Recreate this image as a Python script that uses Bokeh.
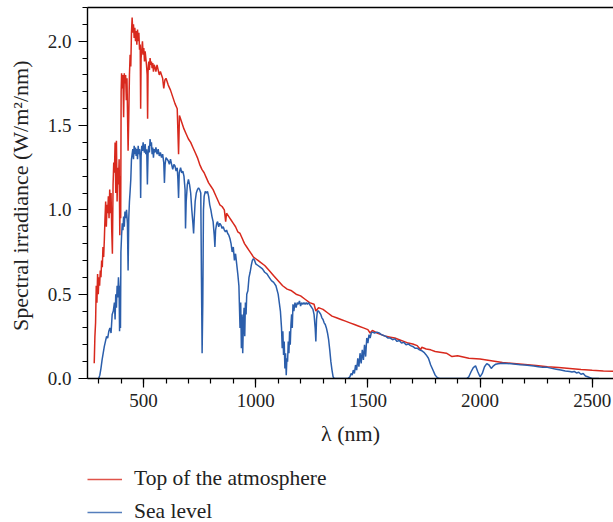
from bokeh.plotting import figure
from bokeh.layouts import column
from bokeh.models import (Range1d, SingleIntervalTicker, PrintfTickFormatter, Legend,
                          LegendItem, LinearAxis, FixedTicker)
from bokeh.embed import file_html
from bokeh.resources import INLINE

# Top of the atmosphere spectrum (wavelength nm, W/m^2/nm)
toa_wl = [280, 283, 286, 289, 292, 295, 298, 301, 304, 307, 310, 313, 316, 319, 322, 325, 328, 331,
          334, 337, 340, 343, 346, 349, 352, 355, 358, 361, 364, 367, 370, 373, 376, 379, 382, 385,
          388, 391, 394, 396, 398, 400, 402, 405, 408, 411, 414, 417, 420, 423, 426, 429, 431, 434,
          437, 440, 443, 446, 449, 452, 455, 458, 461, 464, 467, 470, 473, 476, 479, 482, 485, 487,
          489, 492, 495, 498, 501, 504, 507, 510, 513, 516, 518, 520, 523, 526, 529, 532, 535, 538,
          541, 544, 547, 550, 555, 560, 565, 570, 575, 580, 585, 590, 595, 600, 610, 620, 630, 640,
          650, 656, 660, 670, 680, 690, 700, 710, 720, 730, 740, 750, 760, 770, 780, 790, 800, 810,
          820, 830, 840, 850, 860, 866, 870, 880, 890, 900, 910, 920, 930, 940, 950, 960, 970, 980,
          990, 1000, 1010, 1020, 1040, 1060, 1080, 1100, 1120, 1140, 1160, 1180, 1200, 1220, 1240,
          1260, 1268, 1280, 1300, 1320, 1340, 1360, 1380, 1400, 1420, 1440, 1460, 1480, 1500, 1510,
          1520, 1540, 1560, 1580, 1600, 1620, 1640, 1660, 1680, 1700, 1720, 1735, 1740, 1760, 1780,
          1800, 1850, 1875, 1900, 1950, 2000, 2050, 2100, 2150, 2200, 2250, 2300, 2350, 2400, 2450,
          2500, 2550, 2600]
toa_val = [0.09, 0.25, 0.33, 0.55, 0.45, 0.62, 0.50, 0.60, 0.55, 0.64, 0.60, 0.70, 0.66, 0.78, 0.72,
           0.82, 0.95, 1.05, 0.90, 1.03, 0.98, 1.08, 0.95, 1.12, 0.98, 1.10, 0.88, 0.74, 1.15, 1.28,
           1.22, 1.40, 1.10, 1.41, 1.05, 1.25, 1.15, 1.30, 0.85, 1.20, 0.95, 1.70, 1.81, 1.72, 1.80,
           1.55, 1.81, 1.75, 1.80, 1.65, 1.78, 1.52, 1.35, 1.55, 1.80, 1.92, 1.85, 2.05, 2.14, 2.05,
           2.10, 2.02, 2.08, 2.00, 2.06, 1.98, 2.07, 2.00, 2.05, 1.95, 1.98, 1.60, 1.90, 1.95, 2.00,
           1.92, 1.96, 1.88, 1.94, 1.90, 1.86, 1.80, 1.54, 1.82, 1.88, 1.83, 1.90, 1.86, 1.88, 1.84,
           1.87, 1.82, 1.86, 1.85, 1.82, 1.86, 1.83, 1.80, 1.82, 1.80, 1.78, 1.72, 1.77, 1.78, 1.74,
           1.71, 1.67, 1.63, 1.60, 1.33, 1.56, 1.52, 1.48, 1.45, 1.42, 1.40, 1.37, 1.34, 1.31, 1.27,
           1.24, 1.22, 1.19, 1.16, 1.14, 1.12, 1.09, 1.06, 1.03, 1.02, 1.00, 0.93, 0.98, 0.96, 0.94,
           0.92, 0.90, 0.87, 0.86, 0.83, 0.80, 0.78, 0.76, 0.74, 0.72, 0.71, 0.70, 0.69, 0.67, 0.64,
           0.61, 0.58, 0.55, 0.53, 0.52, 0.50, 0.49, 0.47, 0.45, 0.44, 0.40, 0.42, 0.41, 0.39, 0.37,
           0.36, 0.35, 0.34, 0.33, 0.32, 0.31, 0.30, 0.29, 0.27, 0.285, 0.27, 0.26, 0.25, 0.245, 0.24,
           0.23, 0.22, 0.21, 0.205, 0.195, 0.17, 0.185, 0.175, 0.17, 0.16, 0.15, 0.13, 0.135, 0.12,
           0.115, 0.105, 0.095, 0.089, 0.083, 0.077, 0.070, 0.065, 0.060, 0.054, 0.049, 0.045, 0.042]

# Sea level spectrum
sea_wl = [300, 305, 310, 315, 320, 325, 330, 335, 340, 345, 350, 355, 360, 365, 370, 373, 376, 379,
          382, 385, 388, 391, 393, 395, 397, 399, 402, 405, 408, 411, 414, 417, 420, 424, 428, 431,
          434, 437, 440, 443, 446, 449, 452, 455, 458, 461, 464, 467, 470, 473, 476, 479, 482, 485,
          487, 489, 492, 495, 498, 501, 504, 507, 510, 514, 517, 520, 523, 526, 529, 532, 535, 538,
          541, 544, 547, 550, 555, 560, 565, 570, 575, 580, 585, 590, 593, 596, 600, 605, 610, 615,
          620, 625, 630, 635, 640, 645, 650, 653, 656, 659, 665, 670, 675, 680, 685, 687, 690, 695,
          700, 705, 710, 715, 720, 723, 726, 730, 735, 740, 745, 750, 755, 758, 761, 764, 767, 770,
          775, 780, 785, 790, 795, 800, 805, 810, 815, 818, 821, 826, 830, 835, 840, 845, 850, 855,
          860, 865, 870, 875, 880, 885, 890, 895, 900, 905, 910, 915, 920, 925, 930, 933, 936, 939,
          942, 945, 948, 951, 954, 957, 960, 965, 970, 975, 980, 985, 990, 995, 1000, 1010, 1020,
          1030, 1040, 1050, 1060, 1070, 1080, 1090, 1100, 1105, 1110, 1115, 1118, 1121, 1124, 1127,
          1130, 1133, 1136, 1139, 1142, 1145, 1148, 1151, 1154, 1157, 1160, 1163, 1166, 1170, 1175,
          1180, 1185, 1190, 1195, 1200, 1205, 1210, 1215, 1220, 1225, 1230, 1235, 1240, 1245, 1250,
          1255, 1260, 1265, 1268, 1271, 1275, 1280, 1285, 1290, 1295, 1300, 1305, 1310, 1315, 1320,
          1325, 1330, 1335, 1340, 1345, 1350, 1400, 1410, 1420, 1425, 1430, 1435, 1440, 1445, 1450,
          1455, 1460, 1465, 1470, 1475, 1480, 1485, 1490, 1495, 1500, 1505, 1510, 1515, 1520, 1530,
          1540, 1550, 1560, 1570, 1580, 1590, 1600, 1610, 1620, 1630, 1640, 1650, 1660, 1670, 1680,
          1690, 1700, 1710, 1720, 1730, 1740, 1750, 1760, 1770, 1780, 1790, 1800, 1810, 1820, 1940,
          1950, 1960, 1970, 1980, 1990, 2000, 2010, 2020, 2030, 2040, 2050, 2060, 2070, 2080, 2100,
          2120, 2140, 2160, 2180, 2200, 2220, 2240, 2260, 2280, 2300, 2320, 2340, 2360, 2380, 2400,
          2410, 2420, 2430, 2440, 2450, 2460, 2470, 2480, 2490, 2500, 2530]
sea_val = [0.0, 0.02, 0.06, 0.11, 0.15, 0.19, 0.22, 0.25, 0.24, 0.28, 0.30, 0.27, 0.38, 0.40, 0.45,
           0.35, 0.50, 0.42, 0.55, 0.48, 0.60, 0.52, 0.28, 0.55, 0.30, 0.75, 0.85, 0.92, 0.88, 0.96,
           0.90, 0.99, 0.95, 1.00, 0.92, 0.64, 0.95, 1.05, 1.11, 1.18, 1.30, 1.33, 1.36, 1.30, 1.38,
           1.33, 1.37, 1.32, 1.36, 1.30, 1.38, 1.33, 1.36, 1.30, 1.07, 1.32, 1.38, 1.35, 1.40, 1.36,
           1.34, 1.39, 1.33, 1.36, 1.15, 1.33, 1.38, 1.34, 1.42, 1.38, 1.40, 1.33, 1.37, 1.31, 1.36,
           1.34, 1.37, 1.33, 1.36, 1.32, 1.34, 1.31, 1.33, 1.28, 1.16, 1.27, 1.31, 1.30, 1.29, 1.27,
           1.30, 1.27, 1.24, 1.27, 1.26, 1.23, 1.25, 1.18, 1.07, 1.22, 1.25, 1.22, 1.23, 1.20, 1.12,
           0.89, 1.05, 1.15, 1.18, 1.15, 1.10, 1.00, 0.92, 0.86, 0.95, 1.05, 1.10, 1.12, 1.13, 1.12,
           1.10, 0.60, 0.15, 0.45, 1.00, 1.08, 1.11, 1.10, 1.11, 1.08, 1.03, 1.00, 0.96, 0.93, 0.85,
           0.78, 0.88, 0.92, 0.93, 0.90, 0.92, 0.91, 0.89, 0.90, 0.88, 0.87, 0.88, 0.86, 0.85, 0.83,
           0.80, 0.75, 0.78, 0.70, 0.74, 0.68, 0.62, 0.55, 0.30, 0.45, 0.18, 0.38, 0.15, 0.33, 0.42,
           0.25, 0.45, 0.38, 0.50, 0.52, 0.60, 0.63, 0.67, 0.70, 0.71, 0.70, 0.68, 0.67, 0.66, 0.65,
           0.63, 0.62, 0.60, 0.58, 0.57, 0.55, 0.50, 0.45, 0.40, 0.30, 0.18, 0.28, 0.14, 0.22, 0.06,
           0.15, 0.02, 0.12, 0.10, 0.22, 0.15, 0.28, 0.20, 0.32, 0.38, 0.30, 0.44, 0.40, 0.45, 0.42,
           0.45, 0.44, 0.46, 0.43, 0.45, 0.44, 0.45, 0.44, 0.45, 0.44, 0.45, 0.44, 0.43, 0.42, 0.41,
           0.38, 0.30, 0.22, 0.35, 0.40, 0.40, 0.39, 0.38, 0.36, 0.35, 0.33, 0.32, 0.30, 0.27, 0.23,
           0.17, 0.10, 0.05, 0.01, 0.0, 0.0, 0.0, 0.01, 0.03, 0.02, 0.05, 0.03, 0.08, 0.05, 0.12,
           0.07, 0.15, 0.09, 0.17, 0.11, 0.20, 0.13, 0.24, 0.21, 0.26, 0.24, 0.27, 0.275, 0.27, 0.275,
           0.27, 0.26, 0.255, 0.25, 0.24, 0.24, 0.23, 0.235, 0.22, 0.225, 0.21, 0.215, 0.20, 0.205,
           0.195, 0.19, 0.18, 0.18, 0.17, 0.165, 0.155, 0.14, 0.12, 0.08, 0.05, 0.02, 0.005, 0.0,
           0.0, 0.01, 0.04, 0.065, 0.075, 0.04, 0.01, 0.03, 0.07, 0.088, 0.08, 0.06, 0.075, 0.085,
           0.088, 0.090, 0.089, 0.087, 0.085, 0.082, 0.080, 0.077, 0.074, 0.070, 0.066, 0.066, 0.060,
           0.055, 0.050, 0.045, 0.042, 0.038, 0.042, 0.033, 0.037, 0.025, 0.03, 0.015, 0.01, 0.005,
           0.0, 0.0]

series_labels = ["Top of the atmosphere", "Sea level"]
x_label = "λ (nm)"
y_label = "Spectral irradiance  (W/m²/nm)"

RED = "#d8291d"
BLUE = "#2b5eab"
FONT = "Liberation Serif"

# main chart
p = figure(width=613, height=450, x_range=Range1d(250, 2595), y_range=Range1d(0, 2.2),
           output_backend="svg", toolbar_location=None,
           min_border_left=87, min_border_right=0, min_border_top=7, min_border_bottom=72,
           outline_line_color=None, background_fill_color="white", border_fill_color="white")
p.grid.visible = False

r_toa = p.line(toa_wl, toa_val, line_color=RED, line_width=1.5)
r_sea = p.line(sea_wl, sea_val, line_color=BLUE, line_width=1.5)

for ax in (p.xaxis[0], p.yaxis[0]):
    ax.axis_line_color = "black"
    ax.axis_line_width = 1.4
    ax.major_tick_line_color = "black"
    ax.minor_tick_line_color = "black"
    ax.major_tick_line_width = 1.2
    ax.minor_tick_line_width = 1.2
    ax.major_tick_in = 0
    ax.minor_tick_in = 0
    ax.major_tick_out = 9
    ax.minor_tick_out = 5
    ax.major_label_text_font = FONT
    ax.major_label_text_font_size = "19px"
    ax.major_label_text_color = "#222222"
    ax.axis_label_text_font = FONT
    ax.axis_label_text_font_size = "22px"
    ax.axis_label_text_font_style = "normal"
    ax.axis_label_text_color = "#222222"

p.xaxis[0].ticker = SingleIntervalTicker(interval=500, num_minor_ticks=5)
p.yaxis[0].ticker = SingleIntervalTicker(interval=0.5, num_minor_ticks=5)
p.yaxis[0].formatter = PrintfTickFormatter(format="%.1f")
p.xaxis[0].axis_label = x_label
p.yaxis[0].axis_label = y_label
p.xaxis[0].major_label_standoff = 6
p.xaxis[0].axis_label_standoff = 11
p.yaxis[0].major_label_standoff = 7
p.yaxis[0].axis_label_standoff = 12

top = LinearAxis(ticker=FixedTicker(ticks=[]), axis_line_color="black", axis_line_width=1.4,
                 major_tick_line_color=None, minor_tick_line_color=None,
                 major_label_text_font_size="0px", major_label_standoff=0)
p.add_layout(top, "above")

# legend strip below the chart (its lines fall outside this strip's range; only the key shows)
q = figure(width=613, height=72, x_range=Range1d(0, 1), y_range=Range1d(0, 1),
           output_backend="svg", toolbar_location=None,
           x_axis_location=None, y_axis_location=None, min_border=0,
           outline_line_color=None, background_fill_color="white", border_fill_color="white")
q.grid.visible = False
k_toa = q.line(toa_wl, toa_val, line_color=RED, line_width=1.5, line_alpha=0.8)
k_sea = q.line(sea_wl, sea_val, line_color=BLUE, line_width=1.5, line_alpha=0.8)

legend = Legend(items=[LegendItem(label=series_labels[0], renderers=[k_toa]),
                       LegendItem(label=series_labels[1], renderers=[k_sea])],
                location=(0, -2), orientation="vertical",
                border_line_color=None, background_fill_alpha=0,
                padding=0, margin=0, spacing=8, glyph_width=35, glyph_height=20,
                label_height=20, label_standoff=12,
                label_text_font=FONT, label_text_font_size="21.5px", label_text_color="#222222")
q.add_layout(legend, "center")

layout = column(p, q, spacing=0)
open("out.html", "w").write(file_html(layout, INLINE))
